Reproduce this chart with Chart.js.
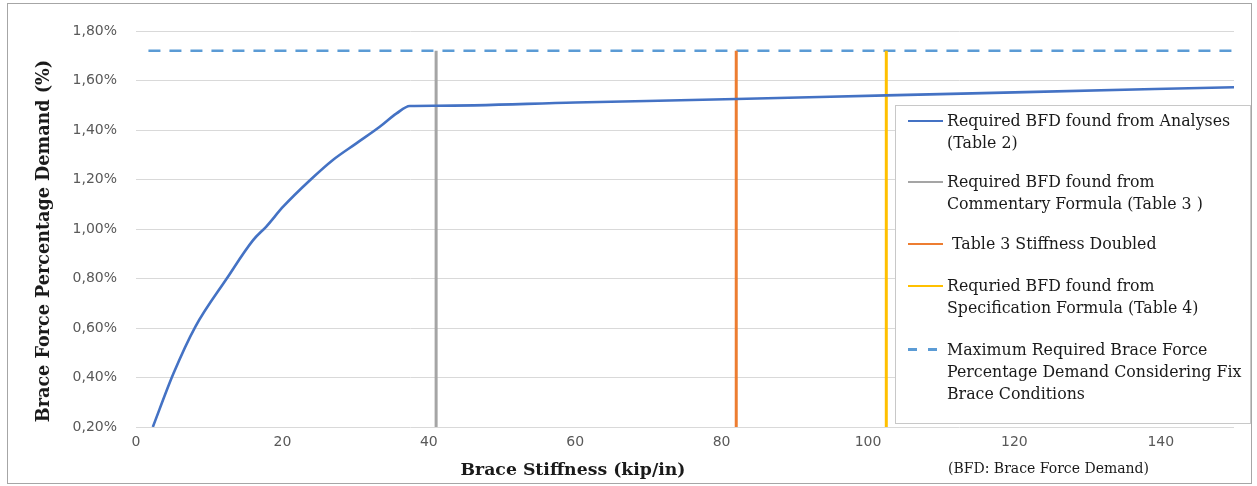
<!DOCTYPE html>
<html>
<head>
<meta charset="utf-8">
<script src="https://cdn.jsdelivr.net/npm/chart.js@4/dist/chart.umd.min.js"></script>
<style>
  html, body { margin:0; padding:0; background:#fff; }
  #wrap { position:relative; width:1257px; height:486px; overflow:hidden; }
  #frame { position:absolute; left:7px; top:3px; width:1245px; height:481px; border:1px solid #a6a6a6; box-sizing:border-box; pointer-events:none; }
  canvas { position:absolute; left:0; top:0; }
  .serif { font-family:"DejaVu Serif", "Liberation Serif", serif; color:#1a1a1a; white-space:nowrap; position:absolute; }
  #ytitle { font-weight:bold; font-size:17.6px; left:42px; top:241px; transform:translate(-50%,-50%) rotate(-90deg); }
  #xtitle { font-weight:bold; font-size:17.3px; left:573px; top:469px; transform:translate(-50%,-50%); }
  #note { font-size:14px; left:948px; top:468px; transform:translateY(-50%); }
  #legend { position:absolute; left:895px; top:105px; width:356px; height:319px; border:1px solid #c8c8c8; box-sizing:border-box; background:#fff; }
  .entry { position:absolute; left:0; }
  .entry .sample { position:absolute; left:12px; top:10px; width:35px; height:0; border-top:2.5px solid; }
  .entry .txt { position:absolute; left:51px; top:0; font-family:"DejaVu Serif", "Liberation Serif", serif; font-size:15.8px; line-height:22px; color:#1a1a1a; white-space:nowrap; }
</style>
</head>
<body>
<div id="wrap">
  <canvas id="c" width="1257" height="486"></canvas>
  <div id="frame"></div>
  <div id="ytitle" class="serif">Brace Force Percentage Demand (%)</div>
  <div id="xtitle" class="serif">Brace Stiffness (kip/in)</div>
  <div id="note" class="serif">(BFD: Brace Force Demand)</div>
  <div id="legend"></div>
</div>
<script>
// ---- data ----
const stiffness = [2.3, 5.1, 8.1, 12.4, 16.0, 17.8, 20.1, 23.8, 26.9, 30.1, 33.3, 35.6, 37.4, 41.0, 60, 82, 102.5, 120, 150];
const bfdAnalyses = [0.20, 0.415, 0.605, 0.80, 0.955, 1.01, 1.09, 1.198, 1.279, 1.346, 1.413, 1.467, 1.497, 1.498, 1.511, 1.525, 1.540, 1.552, 1.573];
const commentaryStiffness = 41.0;
const doubledStiffness = 82.0;
const specificationStiffness = 102.5;
const verticalRange = [0.20, 1.72];
const maxFixBFD = 1.72;
const maxFixRange = [1.7, 150];
const yTicks = [0.20, 0.40, 0.60, 0.80, 1.00, 1.20, 1.40, 1.60, 1.80];
const xTicks = [0, 20, 40, 60, 80, 100, 120, 140];
const legendLabels = [
  ["Required BFD found from Analyses", "(Table 2)"],
  ["Required BFD found from", "Commentary Formula (Table 3 )"],
  ["\u00a0Table 3 Stiffness Doubled"],
  ["Requried BFD found from", "Specification Formula (Table 4)"],
  ["Maximum Required Brace Force", "Percentage Demand Considering Fix", "Brace Conditions"]
];

const colors = ["#4472c4", "#a5a5a5", "#ed7d31", "#ffc000", "#5b9bd5"];

const curve = stiffness.map((x, i) => ({x, y: bfdAnalyses[i]}));
const vline = (x) => verticalRange.map(y => ({x, y}));
const hline = maxFixRange.map(x => ({x, y: maxFixBFD}));

const datasets = [
  {data: curve, borderColor: colors[0], borderWidth: 2.6, cubicInterpolationMode: 'monotone'},
  {data: vline(commentaryStiffness), borderColor: colors[1], borderWidth: 3},
  {data: vline(doubledStiffness), borderColor: colors[2], borderWidth: 3},
  {data: vline(specificationStiffness), borderColor: colors[3], borderWidth: 3},
  {data: hline, borderColor: colors[4], borderWidth: 2.6, borderDash: [12, 9], borderCapStyle: 'butt'}
].map((d, i) => Object.assign({label: legendLabels[i].join(' '), showLine: true, pointRadius: 0, pointHoverRadius: 0, fill: false}, d));

new Chart(document.getElementById('c'), {
  type: 'scatter',
  data: {datasets},
  options: {
    responsive: false,
    animation: false,
    layout: {padding: {left: 10, right: 23, top: 31, bottom: 29}},
    plugins: {legend: {display: false}, tooltip: {enabled: false}},
    scales: {
      x: {
        type: 'linear', min: 0, max: 150,
        afterBuildTicks: (s) => { s.ticks = xTicks.map(v => ({value: v})); },
        afterFit: (s) => { s.height = 30; },
        grid: {display: false, drawTicks: false},
        border: {display: false},
        ticks: {padding: 7, color: '#595959', font: {family: 'DejaVu Sans', size: 14}, maxRotation: 0, autoSkip: false}
      },
      y: {
        type: 'linear', min: 0.2, max: 1.8,
        afterBuildTicks: (s) => { s.ticks = yTicks.map(v => ({value: v})); },
        afterFit: (s) => { s.width = 126; },
        grid: {color: '#d9d9d9', lineWidth: 1, drawTicks: false},
        border: {display: false},
        ticks: {padding: 19, color: '#595959', font: {family: 'DejaVu Sans', size: 14},
          callback: (v) => v.toFixed(2).replace('.', ',') + '%'}
      }
    }
  }
});

// ---- legend (HTML) ----
const legend = document.getElementById('legend');
const entryTops = [4, 65, 127, 169, 233];
legendLabels.forEach((lines, i) => {
  const e = document.createElement('div');
  e.className = 'entry';
  e.style.top = entryTops[i] + 'px';
  const s = document.createElement('div');
  s.className = 'sample';
  if (i === 4) {
    s.style.border = 'none';
    s.style.height = '3px';
    s.style.top = '9px';
    s.style.background = `linear-gradient(to right, ${colors[i]} 0 9px, transparent 9px 20px, ${colors[i]} 20px 29px, transparent 29px)`;
  } else {
    s.style.borderTopColor = colors[i];
  }
  const t = document.createElement('div');
  t.className = 'txt';
  t.textContent = '';
  lines.forEach((l, k) => {
    if (k) t.appendChild(document.createElement('br'));
    t.appendChild(document.createTextNode(l));
  });
  e.appendChild(s); e.appendChild(t);
  legend.appendChild(e);
});
</script>
</body>
</html>
